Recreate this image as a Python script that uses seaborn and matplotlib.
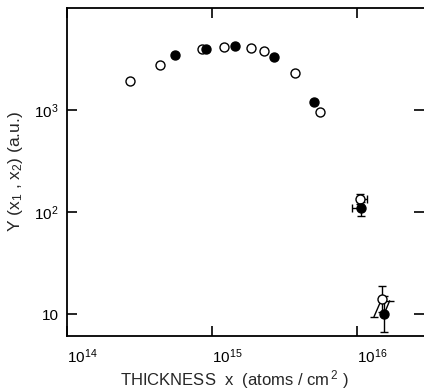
import numpy as np
import pandas as pd
import matplotlib
matplotlib.use("Agg")
import matplotlib.pyplot as plt
import seaborn as sns
from matplotlib.ticker import FixedLocator, FixedFormatter, NullLocator

# ---- data ----
open_x = [2.73e14, 4.4e14, 8.6e14, 1.22e15, 1.86e15, 2.27e15, 3.76e15, 5.52e15, 1.05e16, 1.48e16]
open_y = [1920, 2740, 3940, 4120, 4060, 3820, 2320, 955, 134, 14.0]
filled_x = [5.6e14, 9.1e14, 1.44e15, 2.66e15, 5.02e15, 1.06e16, 1.54e16]
filled_y = [3490, 3940, 4210, 3280, 1210, 109, 10.0]

# error bars (only for the thick-target points)
open_err_x = [1.05e16, 1.48e16]
open_err_y = [134, 14.0]
open_err_ylo = [119, 10.4]
open_err_yhi = [149, 18.8]
open_err_xlo = [1.05e16, 1.48e16]
open_err_xhi = [1.17e16, 1.48e16]

filled_err_x = [1.06e16, 1.54e16]
filled_err_y = [109, 10.0]
filled_err_ylo = [92, 6.67]
filled_err_yhi = [126, 15.0]
filled_err_xlo = [9.25e15, 1.54e16]
filled_err_xhi = [1.06e16, 1.54e16]

# slanted thickness-error segments of the last pair
slant_open_x = [1.31e16, 1.48e16]
slant_open_y = [9.4, 14.0]
slant_filled_x = [1.54e16, 1.68e16]
slant_filled_y = [10.0, 13.5]

xticks = [1e14, 1e15, 1e16]
xticklabels = ["$10^{14}$", "$10^{15}$", "$10^{16}$"]
yticks = [10, 100, 1000]
yticklabels = ["10", "$10^2$", "$10^3$"]

sns.set_theme(style="ticks")
plt.rcParams["font.family"] = ["Liberation Sans", "DejaVu Sans"]
plt.rcParams["mathtext.fontset"] = "custom"
plt.rcParams["mathtext.rm"] = "Liberation Sans"
plt.rcParams["mathtext.it"] = "Liberation Sans"
plt.rcParams["mathtext.bf"] = "Liberation Sans:bold"

fig = plt.figure(figsize=(4.24, 3.91), dpi=100)
ax = fig.add_axes([0.158, 0.1407, 0.842, 0.8388])

df_open = pd.DataFrame({"x": open_x, "y": open_y})
df_filled = pd.DataFrame({"x": filled_x, "y": filled_y})

# error bars
ax.errorbar(open_err_x, open_err_y,
            yerr=[np.array(open_err_y) - np.array(open_err_ylo), np.array(open_err_yhi) - np.array(open_err_y)],
            xerr=[np.array(open_err_x) - np.array(open_err_xlo), np.array(open_err_xhi) - np.array(open_err_x)],
            fmt="none", ecolor="black", elinewidth=1.0, capsize=3, capthick=1.0, zorder=2)
ax.errorbar(filled_err_x, filled_err_y,
            yerr=[np.array(filled_err_y) - np.array(filled_err_ylo), np.array(filled_err_yhi) - np.array(filled_err_y)],
            xerr=[np.array(filled_err_x) - np.array(filled_err_xlo), np.array(filled_err_xhi) - np.array(filled_err_x)],
            fmt="none", ecolor="black", elinewidth=1.0, capsize=3, capthick=1.0, zorder=2)
ax.plot(slant_open_x, slant_open_y, color="black", lw=1.0, zorder=2)
ax.plot(slant_open_x[:1], slant_open_y[:1], marker="_", ms=6, mew=1.0, color="black", zorder=2)
ax.plot(slant_filled_x, slant_filled_y, color="black", lw=1.0, zorder=2)
ax.plot(slant_filled_x[1:], slant_filled_y[1:], marker="_", ms=6, mew=1.0, color="black", zorder=2)

sns.scatterplot(data=df_open, x="x", y="y", ax=ax, marker="o", s=42,
                facecolor="white", edgecolor="black", linewidth=1.0, zorder=3)
sns.scatterplot(data=df_filled, x="x", y="y", ax=ax, marker="o", s=42,
                facecolor="black", edgecolor="black", linewidth=1.0, zorder=4)

ax.set_xscale("log")
ax.set_yscale("log")
ax.set_xlim(1e14, 2.9e16)
ax.set_ylim(6.1, 1e4)

ax.xaxis.set_major_locator(FixedLocator(xticks))
ax.xaxis.set_major_formatter(FixedFormatter(xticklabels))
ax.yaxis.set_major_locator(FixedLocator(yticks))
ax.yaxis.set_major_formatter(FixedFormatter(yticklabels))
ax.xaxis.set_minor_locator(NullLocator())
ax.yaxis.set_minor_locator(NullLocator())

ax.tick_params(axis="both", which="major", direction="in", length=7, width=1.2,
               top=True, right=True, labelsize=11, colors="black")
ax.tick_params(axis="x", pad=8)
ax.tick_params(axis="y", pad=6)
for lab in ax.get_xticklabels():
    lab.set_horizontalalignment("left")

for side in ["left", "bottom", "top"]:
    ax.spines[side].set_linewidth(1.3)
    ax.spines[side].set_color("black")
ax.spines["right"].set_visible(False)

ax.set_xlabel("THICKNESS  x  (atoms / cm$^{\\,2}$ )", fontsize=12)
ax.set_ylabel("Y (x$_1$ , x$_2$) (a.u.)", fontsize=12.5)
ax.xaxis.set_label_coords(0.469, -0.097)
ax.yaxis.set_label_coords(-0.118, 0.5)

fig.savefig("out.png", dpi=100)
